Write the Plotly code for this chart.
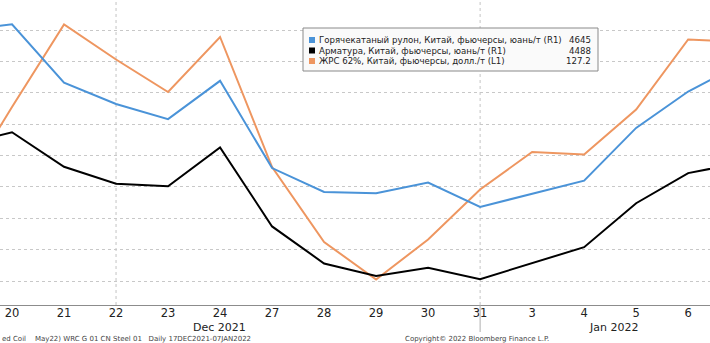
import plotly.graph_objects as go

# Trading days, 17 Dec 2021 - 7 Jan 2022
dates = ["2021-12-17", "2021-12-20", "2021-12-21", "2021-12-22", "2021-12-23",
         "2021-12-24", "2021-12-27", "2021-12-28", "2021-12-29", "2021-12-30",
         "2021-12-31", "2022-01-03", "2022-01-04", "2022-01-05", "2022-01-06",
         "2022-01-07"]
day_labels = ["17", "20", "21", "22", "23", "24", "27", "28", "29", "30",
              "31", "3", "4", "5", "6", "7"]

# Hot-rolled coil futures, CNY/t (right axis)
hrc = [4699, 4709, 4616, 4582, 4558, 4619, 4480, 4442, 4440, 4457,
       4418, 4439, 4460, 4544, 4602, 4645]
# Rebar futures, CNY/t (right axis)
rebar = [4517, 4537, 4482, 4455, 4451, 4513, 4387, 4328, 4308, 4321,
         4303, 4328, 4354, 4424, 4472, 4488]
# Iron ore 62% futures, USD/t (left axis)
ore = [121.2, 124.6, 127.9, 126.5, 125.2, 127.4, 122.2, 119.2, 117.7, 119.3,
       121.3, 122.8, 122.7, 124.5, 127.3, 127.2]

names = ["Горячекатаный рулон, Китай, фьючерсы, юань/т (R1)",
         "Арматура, Китай, фьючерсы, юань/т (R1)",
         "ЖРС 62%, Китай, фьючерсы, долл./т (L1)"]
colors = ["#4a93d8", "#000000", "#ee9660"]
last_values = [f"{hrc[-1]}", f"{rebar[-1]}", f"{ore[-1]:.1f}"]

W, H = 710, 343
MB = 38
PH = H - MB

fig = go.Figure()
fig.add_trace(go.Scatter(x=dates, y=ore, mode="lines", yaxis="y",
                         line=dict(color=colors[2], width=2), showlegend=False))
fig.add_trace(go.Scatter(x=dates, y=hrc, mode="lines", yaxis="y2",
                         line=dict(color=colors[0], width=2), showlegend=False))
fig.add_trace(go.Scatter(x=dates, y=rebar, mode="lines", yaxis="y2",
                         line=dict(color=colors[1], width=2), showlegend=False))

font = "DejaVu Sans, Verdana, sans-serif"


def px_x(p):
    return p / W


def px_y(p):
    return (PH - p) / PH


shapes = []
annotations = []

# Vertical separators
for d in ["2021-12-22", "2021-12-31"]:
    shapes.append(dict(type="line", xref="x", yref="paper", x0=d, x1=d, y0=0, y1=1,
                       line=dict(color="#c4c4c4", width=1, dash="dot"), layer="below"))
shapes.append(dict(type="line", xref="x", yref="paper", x0="2021-12-31", x1="2021-12-31",
                   y0=px_y(332), y1=0, line=dict(color="#b0b0b0", width=1)))

# Legend box
shapes.append(dict(type="rect", xref="paper", yref="paper",
                   x0=px_x(303), x1=px_x(598), y0=px_y(71), y1=px_y(28),
                   line=dict(color="#8a8a8a", width=1), fillcolor="#fafafa"))
rows = [40, 50.5, 61]
for name, c, v, ry in zip(names, colors, last_values, rows):
    shapes.append(dict(type="rect", xref="paper", yref="paper",
                       x0=px_x(309), x1=px_x(315), y0=px_y(ry + 3), y1=px_y(ry - 3),
                       line=dict(width=0), fillcolor=c))
    annotations.append(dict(xref="paper", yref="paper", x=px_x(317), y=px_y(ry),
                            xanchor="left", yanchor="middle", text=name, showarrow=False,
                            font=dict(family=font, size=8.6, color="#222222")))
    annotations.append(dict(xref="paper", yref="paper", x=px_x(593), y=px_y(ry),
                            xanchor="right", yanchor="middle", text=v, showarrow=False,
                            font=dict(family=font, size=8.6, color="#222222")))

# Month labels
annotations.append(dict(xref="paper", yref="paper", x=px_x(220), y=px_y(327.5),
                        xanchor="center", yanchor="middle", text="Dec 2021", showarrow=False,
                        font=dict(family=font, size=11, color="#222222")))
annotations.append(dict(xref="paper", yref="paper", x=px_x(613), y=px_y(327.5),
                        xanchor="center", yanchor="middle", text="Jan 2022", showarrow=False,
                        font=dict(family=font, size=11, color="#222222")))

# Footer
annotations.append(dict(xref="paper", yref="paper", x=0, y=px_y(338.5),
                        xanchor="left", yanchor="middle",
                        text="ed Coil    May22) WRC G 01 CN Steel 01   Daily 17DEC2021-07JAN2022",
                        showarrow=False, font=dict(family=font, size=7, color="#444444")))
annotations.append(dict(xref="paper", yref="paper", x=px_x(403), y=px_y(338.5),
                        xanchor="left", yanchor="middle",
                        text="Copyright© 2022 Bloomberg Finance L.P.",
                        showarrow=False, font=dict(family=font, size=7, color="#444444")))

fig.update_layout(
    width=W, height=H,
    margin=dict(l=0, r=0, t=0, b=MB),
    paper_bgcolor="white", plot_bgcolor="white",
    showlegend=False,
    xaxis=dict(type="category", range=[0.769, 14.42],
               tickvals=dates, ticktext=day_labels,
               showgrid=False, zeroline=False,
               showline=True, linecolor="#8c8c8c", linewidth=1,
               ticks="", ticklen=0, ticklabelstandoff=-3,
               tickfont=dict(family=font, size=11.5, color="#222222")),
    yaxis=dict(range=[116.68, 128.88], showgrid=False, zeroline=False,
               showticklabels=False, ticks=""),
    yaxis2=dict(range=[4261.8, 4747.8], overlaying="y", side="right",
                tick0=4300, dtick=50, showgrid=True, gridcolor="#c8c8c8",
                griddash="dot", gridwidth=1, zeroline=False,
                showticklabels=False, ticks=""),
    shapes=shapes,
    annotations=annotations,
)

fig.write_html("out.html")
